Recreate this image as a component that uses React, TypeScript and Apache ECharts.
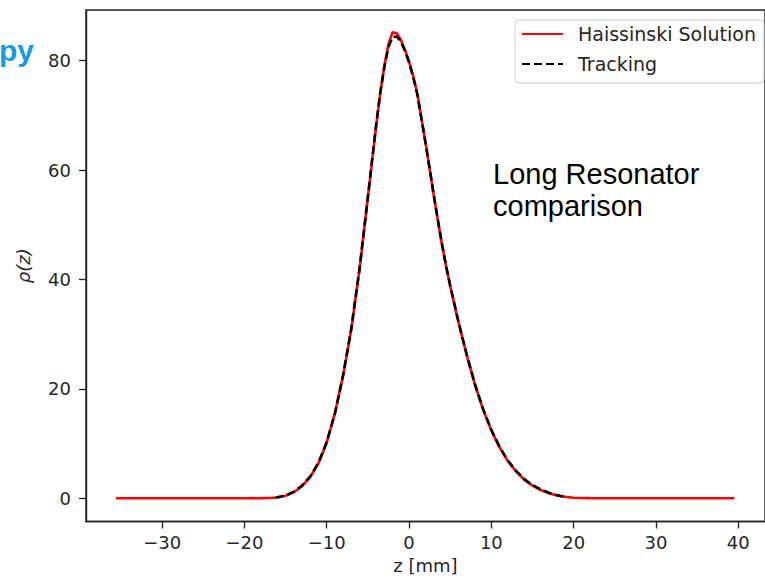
import React, { useEffect, useRef } from "react";
import * as echarts from "echarts";

// z [mm] grid and Haissinski solution values
const zHaissinski = [
  -35.6, -30, -25, -20, -18, -17, -16, -15, -14, -13, -12, -11, -10, -9, -8, -7, -6, -5, -4.5, -4, -3.5, -3, -2.5, -2,
  -1.5, -1, -0.5, 0, 0.5, 1, 1.5, 2, 2.5, 3, 3.5, 4, 4.5, 5, 6, 7, 8, 9, 10, 11, 12, 13, 14, 15, 16, 17, 18, 19, 20,
  22, 25, 30, 35, 39.5,
];
const rhoHaissinski = [
  0, 0, 0, 0, 0.02, 0.05, 0.15, 0.45, 1.1, 2.2, 3.9, 6.4, 10.2, 15.6, 22.5, 31, 42, 55, 61.5, 68, 74, 79, 83, 85.2,
  85, 83.8, 82, 79.8, 77.2, 74, 69.5, 65, 60.2, 55.4, 50.8, 46.4, 42.4, 38.8, 32.2, 26.2, 20.8, 16.2, 12.4, 9.3, 6.8,
  4.9, 3.4, 2.3, 1.5, 0.9, 0.5, 0.25, 0.1, 0.02, 0, 0, 0, 0,
];

// Tracking histogram
const zTracking = [
  -16.2, -15, -14, -13, -12, -11, -10, -9, -8, -7, -6, -5, -4.5, -4, -3.5, -3, -2.5, -2, -1.5, -1, -0.5, 0, 0.5, 1,
  1.5, 2, 2.5, 3, 3.5, 4, 4.5, 5, 6, 7, 8, 9, 10, 11, 12, 13, 14, 15, 16, 17, 18, 19,
];
const rhoTracking = [
  0.15, 0.5, 1.2, 2.3, 4.0, 6.5, 10.3, 15.5, 22.6, 31.2, 42.2, 55.1, 61.7, 68.2, 74.1, 78.8, 82.5, 84.3, 84.4, 83.5,
  81.8, 79.7, 77.0, 73.9, 69.4, 65.0, 60.3, 55.5, 50.9, 46.5, 42.5, 38.9, 32.3, 26.3, 20.9, 16.3, 12.5, 9.4, 6.9, 5.0,
  3.5, 2.4, 1.6, 1.0, 0.55, 0.25,
];

const xTickValues = [-30, -20, -10, 0, 10, 20, 30, 40];
const yTickValues = [0, 20, 40, 60, 80];

const seriesNames = ["Haissinski Solution", "Tracking"];
const xName = "z [mm]";
const yName = "ρ(z)";
const annotation = "Long Resonator\ncomparison";
const clippedHeading = "py";

export default function App() {
  const ref = useRef<HTMLDivElement>(null);

  useEffect(() => {
    if (!ref.current) return;
    const chart = echarts.init(ref.current, undefined, { renderer: "svg" });
    const font = "DejaVu Sans";
    const axisColor = "#222";
    const textColor = "#262626";

    const option: any = {
      animation: false,
      backgroundColor: "#ffffff",
      grid: {
        left: 86,
        top: 10,
        bottom: 59.5,
        right: -10.5,
        show: true,
        borderColor: axisColor,
        borderWidth: 1.4,
        backgroundColor: "transparent",
      },
      xAxis: {
        type: "value",
        min: -39.25,
        max: 43.25,
        name: xName,
        nameLocation: "middle",
        nameGap: 35,
        nameTextStyle: { fontFamily: font, fontSize: 18, color: textColor },
        axisLine: { show: true, onZero: false, lineStyle: { color: axisColor, width: 1.4 } },
        axisTick: { show: true, length: 7, lineStyle: { color: axisColor, width: 1.3 }, customValues: xTickValues },
        axisLabel: {
          fontFamily: font,
          fontSize: 18,
          color: textColor,
          margin: 12,
          customValues: xTickValues,
          formatter: (v: number) => (v < 0 ? "\u2212" + Math.abs(v) : String(v)),
        },
        splitLine: { show: false },
      },
      yAxis: {
        type: "value",
        min: -4.25,
        max: 89.25,
        name: yName,
        nameLocation: "middle",
        nameRotate: 90,
        nameGap: 54,
        nameTextStyle: { fontFamily: font, fontSize: 18, color: textColor, fontStyle: "italic" },
        axisLine: { show: true, onZero: false, lineStyle: { color: axisColor, width: 1.4 } },
        axisTick: { show: true, length: 7, lineStyle: { color: axisColor, width: 1.3 }, customValues: yTickValues },
        axisLabel: {
          fontFamily: font,
          fontSize: 18,
          color: textColor,
          margin: 15,
          customValues: yTickValues,
        },
        splitLine: { show: false },
      },
      legend: {
        orient: "vertical",
        left: 515,
        top: 20,
        padding: [4, 8, 9, 6],
        itemWidth: 41,
        itemHeight: 20,
        itemGap: 10,
        borderColor: "#cccccc",
        borderWidth: 1,
        borderRadius: 4,
        backgroundColor: "rgba(255,255,255,0.8)",
        itemStyle: { opacity: 0 },
        textStyle: { fontFamily: font, fontSize: 19, color: textColor, lineHeight: 20, padding: [0, 0, 0, 10] },
        data: seriesNames,
      },
      series: [
        {
          name: seriesNames[0],
          type: "line",
          data: zHaissinski.map((z, i) => [z, rhoHaissinski[i]]),
          showSymbol: false,
          symbol: "none",
          lineStyle: { color: "#ff0000", width: 2.6 },
          itemStyle: { color: "#ff0000" },
          z: 2,
        },
        {
          name: seriesNames[1],
          type: "line",
          data: zTracking.map((z, i) => [z, rhoTracking[i]]),
          showSymbol: false,
          symbol: "none",
          lineStyle: { color: "#000000", width: 2.6, type: [8, 4] },
          itemStyle: { color: "#000000" },
          z: 3,
        },
      ],
      graphic: [
        {
          type: "text",
          left: 493,
          top: 158,
          style: {
            text: annotation,
            fontFamily: "Liberation Sans",
            fontSize: 29,
            lineHeight: 32,
            fill: "#000000",
          },
        },
        {
          type: "text",
          x: 34,
          y: 50,
          style: {
            text: clippedHeading,
            fontFamily: "Liberation Sans",
            fontWeight: "bold",
            fontSize: 30,
            fill: "#1a9cd8",
            align: "right",
            verticalAlign: "middle",
          },
        },
      ],
    };

    chart.setOption(option);
    return () => chart.dispose();
  }, []);

  return <div ref={ref} style={{ position: "fixed", left: 0, top: 0, width: 765, height: 581 }} />;
}
